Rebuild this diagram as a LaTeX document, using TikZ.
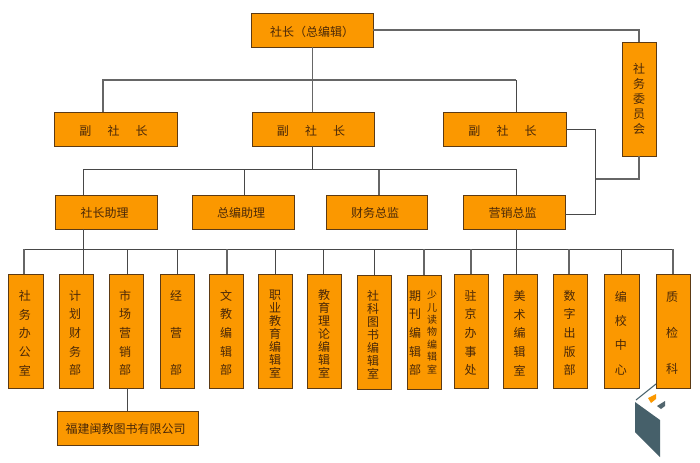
\documentclass[tikz,border=0pt]{standalone}
\usepackage{fontspec}
\setmainfont{Noto Sans CJK SC}
\definecolor{boxfill}{HTML}{FB9800}
\definecolor{boxedge}{HTML}{5C3A14}
\definecolor{ink}{HTML}{4A2808}
\definecolor{wire}{HTML}{474747}
\definecolor{wiregray}{HTML}{666666}
\definecolor{slate}{HTML}{46606A}
\tikzset{
  x=0.75pt,y=-0.75pt,
  boxed/.style={draw=boxedge,fill=boxfill,line width=0.75pt,inner sep=0pt,outer sep=0pt},
  lab/.style={text=ink,inner sep=0pt,align=center},
  wirethin/.style={draw=wire,line width=0.75pt},
  wirethick/.style={draw=wiregray,line width=1.25pt},
}
% #1 name, #2-#5 x1 y1 x2 y2 (px), #6 baseline (pt), #7 x shift (px), #8 y shift (px), #9 text
\newcommand\orgbox[9]{%
  \pgfmathsetmacro\bw{(#4-#2)*0.75}\pgfmathsetmacro\bh{(#5-#3)*0.75}%
  \node[boxed,minimum width=\bw pt,minimum height=\bh pt] (#1) at ({(#2+#4)/2},{(#3+#5)/2}) {};
  \node[lab,font=\fontsize{9}{#6}\selectfont] (#1t) at ([xshift=#7*0.75pt,yshift=-#8*0.75pt]#1.center) {#9};
}
\begin{document}
\begin{tikzpicture}
\useasboundingbox (0,0) rectangle (700,462);
\fill[white] (0,0) rectangle (700,462);
\coordinate (tr) at (639,30);
\coordinate (busA) at (312.5,80);
\coordinate (busB) at (312.5,169.5);
\coordinate (busC) at (83,249);
\coordinate (rj) at (595.5,178.7);
% boxes
\orgbox{top}{251}{13}{373}{47}{12}{0}{1.5}{社长（总编辑）}
\orgbox{vpa}{54}{112}{177}{146}{12}{-2}{2}{副\hspace{1.35em}社\hspace{1.35em}长}
\orgbox{vpb}{252}{112}{374}{146}{12}{-2}{2}{副\hspace{1.35em}社\hspace{1.35em}长}
\orgbox{vpc}{443}{112}{566}{146}{12}{-2}{2}{副\hspace{1.35em}社\hspace{1.35em}长}
\orgbox{asa}{55}{195}{157}{229}{12}{-1.5}{1}{社长助理}
\orgbox{asb}{192}{195}{294}{229}{12}{-2}{1}{总编助理}
\orgbox{asc}{326}{195}{427}{229}{12}{-1.5}{1}{财务总监}
\orgbox{asd}{463}{195}{565}{229}{12}{-1.5}{1}{营销总监}
\orgbox{com}{622}{42}{656}{156}{11.4}{0}{0}{社\\务\\委\\员\\会}
\orgbox{d1}{8.5}{274}{43}{388}{14}{-1}{2}{社\\务\\办\\公\\室}
\orgbox{d2}{59}{274}{93}{388}{14}{-1}{2}{计\\划\\财\\务\\部}
\orgbox{d3}{109}{274}{143}{388}{14}{-1}{2}{市\\场\\营\\销\\部}
\orgbox{d4}{160}{274}{194}{388}{27.5}{-1}{2}{经\\营\\部}
\orgbox{d5}{209.5}{274}{243.5}{388}{14}{-0.5}{2}{文\\教\\编\\辑\\部}
\orgbox{d6}{258}{274}{292}{388}{9.7}{0}{3}{职\\业\\教\\育\\编\\辑\\室}
\orgbox{d7}{307}{274}{341}{388}{9.7}{0}{3}{教\\育\\理\\论\\编\\辑\\室}
\orgbox{d8}{357}{275}{391}{389}{9.7}{-1}{3}{社\\科\\图\\书\\编\\辑\\室}
\orgbox{d9}{407}{275}{441}{389}{14}{-9}{1}{期\\刊\\编\\辑\\部}
\node[lab,font=\fontsize{7.5}{9.3}\selectfont] (d9s) at ([xshift=6pt,yshift=0pt]d9.center) {少\\儿\\读\\物\\编\\辑\\室};
\orgbox{d10}{454}{274}{488}{388}{14}{-0.5}{2}{驻\\京\\办\\事\\处}
\orgbox{d11}{503}{274}{537}{388}{14}{-0.5}{2}{美\\术\\编\\辑\\室}
\orgbox{d12}{553}{274}{587}{388}{14}{-0.5}{2}{数\\字\\出\\版\\部}
\orgbox{d13}{604.5}{274}{639}{388}{18.3}{-1}{2}{编\\校\\中\\心}
\orgbox{d14}{656}{274}{690}{388}{27}{-1}{2}{质\\检\\科}
\orgbox{sub}{57}{411}{198}{445}{12}{-2}{1}{福建闽教图书有限公司}
% connectors
\draw[wirethick] (top.south -| busA) -- (busA);
\draw[wirethick] (busA) -- (vpb.north -| busA);
\draw[wirethick] (top.east |- tr) -- (tr) -- (tr |- com.north);
\coordinate (aL) at (103,80); \coordinate (aR) at (516,80);
\draw[wirethick] (aL |- vpa.north) -- (aL) -- (busA);
\draw[wirethick] (busA) -- (aR);
\draw[wirethin] (aR) -- (aR |- vpc.north);
\draw[wirethin] (vpb.south -| busB) -- (busB);
\coordinate (bL) at (83,169.5); \coordinate (bM) at (244,169.5); \coordinate (bN) at (379,169.5); \coordinate (bR) at (516,169.5);
\draw[wirethin] (bL |- asa.north) -- (bL) -- (bR) -- (bR |- asd.north);
\draw[wirethin] (bM) -- (bM |- asb.north);
\draw[wirethick] (bN) -- (bN |- asc.north);
\coordinate (rT) at (595.5,129); \coordinate (rB) at (595.5,214);
\draw[wirethin] (vpc.east |- rT) -- (rT) -- (rB) -- (asd.east |- rB);
\draw[wirethick] (com.south -| tr) -- (tr |- rj) -- (rj);
\draw[wirethin] (asa.south -| busC) -- (busC);
\coordinate (cR) at (516.5,249);
\draw[wirethin] (asd.south -| cR) -- (cR);
\coordinate (c1) at (24,249); \coordinate (c14) at (673,249);
\draw[wirethin] (c1) -- (c14);
\coordinate (c2) at (83,249); \coordinate (c3) at (127,249); \coordinate (c4) at (177,249); \coordinate (c5) at (227,249); \coordinate (c6) at (275.5,249); \coordinate (c7) at (323,249); \coordinate (c8) at (374,249); \coordinate (c9) at (424,249); \coordinate (c10) at (471,249); \coordinate (c11) at (516.5,249); \coordinate (c12) at (569,249); \coordinate (c13) at (621,249);
\draw[wirethick] (c1) -- (c1 |- d1.north);
\draw[wirethin] (c2) -- (c2 |- d2.north);
\draw[wirethin] (c3) -- (c3 |- d3.north);
\draw[wirethin] (c4) -- (c4 |- d4.north);
\draw[wirethick] (c5) -- (c5 |- d5.north);
\draw[wirethin] (c6) -- (c6 |- d6.north);
\draw[wirethin] (c7) -- (c7 |- d7.north);
\draw[wirethin] (c8) -- (c8 |- d8.north);
\draw[wirethick] (c9) -- (c9 |- d9.north);
\draw[wirethick] (c10) -- (c10 |- d10.north);
\draw[wirethin] (c11) -- (c11 |- d11.north);
\draw[wirethick] (c12) -- (c12 |- d12.north);
\draw[wirethin] (c13) -- (c13 |- d13.north);
\draw[wirethick] (c14) -- (c14 |- d14.north);
\draw[wirethin] (c3 |- d3.south) -- (c3 |- sub.north);
% logo
\fill[slate] (635,402) -- (660,420) -- (660,457) -- (635,432) -- cycle;
\draw[slate,line width=0.8pt] (636,400) -- (656,384);
\fill[boxfill] (648,398) -- (656,394) -- (656,399) -- (651,403) -- cycle;
\fill[slate!80!gray] (657,406) -- (665,401) -- (665,406) -- (661,409) -- cycle;
\end{tikzpicture}
\end{document}
